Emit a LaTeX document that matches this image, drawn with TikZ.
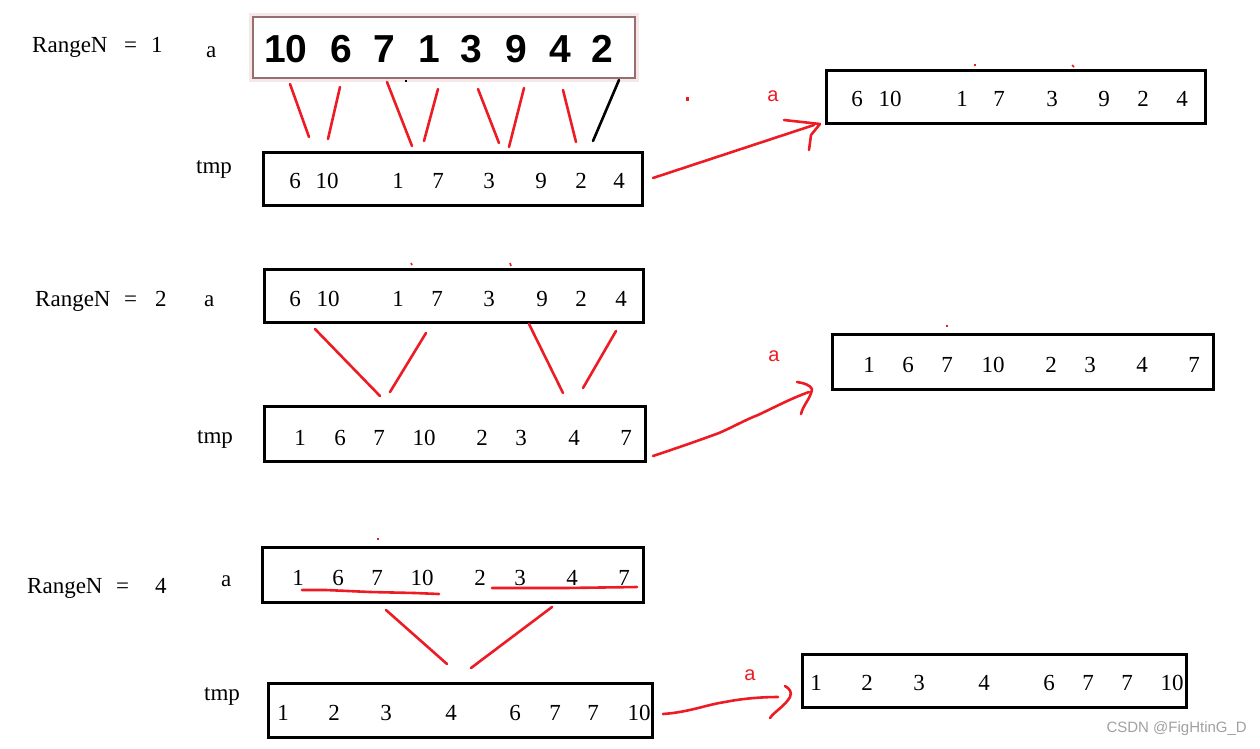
\documentclass[tikz,border=0pt]{standalone}
\usepackage{fontspec}
\setmainfont{Liberation Serif}
\newfontfamily\sansf{Liberation Sans}
\definecolor{pred}{RGB}{237,28,36}
\definecolor{wmgray}{RGB}{160,160,160}
\definecolor{glow}{RGB}{246,232,232}
\definecolor{bbord}{RGB}{150,110,110}
\begin{document}
\begin{tikzpicture}[x=1pt,y=-1pt,
  box/.style={draw=black, line width=3pt, inner sep=0pt},
  num/.style={font=\fontsize{23}{23}\selectfont, inner sep=0pt, anchor=center},
  bnum/.style={font=\sansf\bfseries\fontsize{39}{39}\selectfont, inner sep=0pt, anchor=center},
  lbl/.style={font=\fontsize{23}{23}\selectfont, inner sep=0pt, anchor=base west},
  rlbl/.style={font=\sansf\fontsize{20}{20}\selectfont, text=pred, inner sep=0pt, anchor=center},
  rl/.style={draw=pred, line width=2.6pt, line cap=round, line join=round},
  bl/.style={draw=black, line width=2.6pt, line cap=round},
  tick/.style={draw=pred, line width=1.6pt}]
\useasboundingbox (0,0) rectangle (1260,748);

% ---------------- Row 1 ----------------
\node[lbl] (rn1) at (32,52) {RangeN};
\node[lbl] (eq1) at (124,52) {=};
\node[lbl] (v1) at (151,52) {1};
\node[lbl] (a1) at (206,57) {a};
% top image box
\fill[glow] (249,13) rectangle (639,82);
\node[draw=bbord, line width=2pt, fill=white, minimum width=382, minimum height=61, inner sep=0pt] (top) at (443.5,47.5) {};
\foreach \x/\t [count=\i] in {286/10,341/6,384/7,429/1,471/3,516/9,560/4,602/2}
  \node[bnum] (tb\i) at (\x,49) {\t};
\fill[black] (405,80) rectangle (407,82);
% connectors a -> tmp
\draw[rl] (290,84) -- (309,137);
\draw[rl] (340,87) -- (328,139);
\draw[rl] (387,82) -- (412,146);
\draw[rl] (438,89) -- (424,141);
\draw[rl] (478,89) -- (499,143);
\draw[rl] (524,88) -- (509,147);
\draw[rl] (563,90) -- (576,142);
\draw[bl] (619,80) -- (593,141);
% tmp
\node[lbl] (tl1) at (196,173) {tmp};
\node[box, minimum width=379, minimum height=53] (t1) at (452.5,178.5) {};
\foreach \x/\t [count=\i] in {295/6,327/10,398/1,438/7,489/3,541/9,581/2,619/4}
  \node[num] (t1n\i) at (\x,181) {\t};
% right box
\node[box, minimum width=379, minimum height=53] (r1) at (1016,96.5) {};
\foreach \x/\t [count=\i] in {857/6,890/10,962/1,999/7,1052/3,1104/9,1143/2,1182/4}
  \node[num] (r1n\i) at (\x,99) {\t};
\node[rlbl] (ra1) at (773,96) {a};
\fill[pred] (686,97) rectangle (689,101);
\draw[tick] (974,65) -- (976,65);
\draw[tick] (1072,65) -- (1074,67);
% arrow 1
\draw[rl] (653,178) -- (814,125);
\draw[rl] (784,120) -- (820,124) -- (811,135) -- (809,150);

% ---------------- Row 2 ----------------
\node[lbl] (rn2) at (35,306) {RangeN};
\node[lbl] (eq2) at (124,306) {=};
\node[lbl] (v2) at (155,306) {2};
\node[lbl] (a2) at (204,306) {a};
\node[box, minimum width=379, minimum height=53] (a2b) at (453.5,296) {};
\foreach \x/\t [count=\i] in {295/6,328/10,398/1,437/7,489/3,542/9,581/2,621/4}
  \node[num] (a2n\i) at (\x,299) {\t};
\draw[tick] (411,263) -- (412,265);
\draw[tick] (510,263) -- (511,266);
\draw[rl] (315,329) -- (380,396);
\draw[rl] (426,333) -- (390,392);
\draw[rl] (529,324) -- (563,393);
\draw[rl] (616,331) -- (583,388);
\node[lbl] (tl2) at (197,443) {tmp};
\node[box, minimum width=381, minimum height=55] (t2) at (455,434) {};
\foreach \x/\t [count=\i] in {300/1,340/6,379/7,424/10,482/2,521/3,574/4,626/7}
  \node[num] (t2n\i) at (\x,438) {\t};
\node[box, minimum width=381, minimum height=55] (r2) at (1023,361.5) {};
\foreach \x/\t [count=\i] in {869/1,908/6,947/7,993/10,1051/2,1090/3,1142/4,1194/7}
  \node[num] (r2n\i) at (\x,365) {\t};
\draw[tick] (946,326) -- (948,326);
\node[rlbl] (ra2) at (774,356) {a};
% arrow 2 (wavy)
\draw[rl] (653,456) .. controls (680,447) and (700,440) .. (719,433)
  .. controls (735,426) and (745,420) .. (758,415)
  .. controls (775,407) and (792,398) .. (809,392);
\draw[rl] (797,382) .. controls (804,383) and (810,385) .. (812,389)
  .. controls (811,398) and (803,405) .. (801,414);

% ---------------- Row 3 ----------------
\node[lbl] (rn3) at (27,593) {RangeN};
\node[lbl] (eq3) at (116,593) {=};
\node[lbl] (v3) at (155,593) {4};
\node[lbl] (a3) at (221,586) {a};
\node[box, minimum width=381, minimum height=55] (a3b) at (453,574.5) {};
\foreach \x/\t [count=\i] in {298/1,338/6,377/7,422/10,480/2,520/3,572/4,624/7}
  \node[num] (a3n\i) at (\x,578) {\t};
\draw[tick] (377,539) -- (379,539);
\draw[rl] (302,590) -- (326,590) -- (370,592) -- (415,593) -- (439,594);
\draw[rl] (492,588) -- (565,588) -- (637,587);
\draw[rl] (386,610) -- (447,664);
\draw[rl] (552,607) -- (471,668);
\node[lbl] (tl3) at (204,700) {tmp};
\node[box, minimum width=384, minimum height=54] (t3) at (460.5,710) {};
\foreach \x/\t [count=\i] in {283/1,334/2,386/3,451/4,515/6,555/7,593/7,639/10}
  \node[num] (t3n\i) at (\x,713) {\t};
\node[box, minimum width=384, minimum height=53] (r3) at (994,680.5) {};
\foreach \x/\t [count=\i] in {816/1,867/2,919/3,984/4,1049/6,1088/7,1127/7,1172/10}
  \node[num] (r3n\i) at (\x,683) {\t};
\node[rlbl] (ra3) at (750,675) {a};
% arrow 3
\draw[rl] (663,714) .. controls (690,712) and (705,705) .. (725,702)
  .. controls (745,698) and (765,697) .. (778,697);
\draw[rl] (785,686) .. controls (790,689) and (792,692) .. (790,697)
  .. controls (785,706) and (775,711) .. (770,718);

% watermark
\node[font=\sansf\fontsize{15}{15}\selectfont, text=wmgray, inner sep=0pt, anchor=east] (wm) at (1247,729) {CSDN @FigHtinG\_D};
\end{tikzpicture}
\end{document}
